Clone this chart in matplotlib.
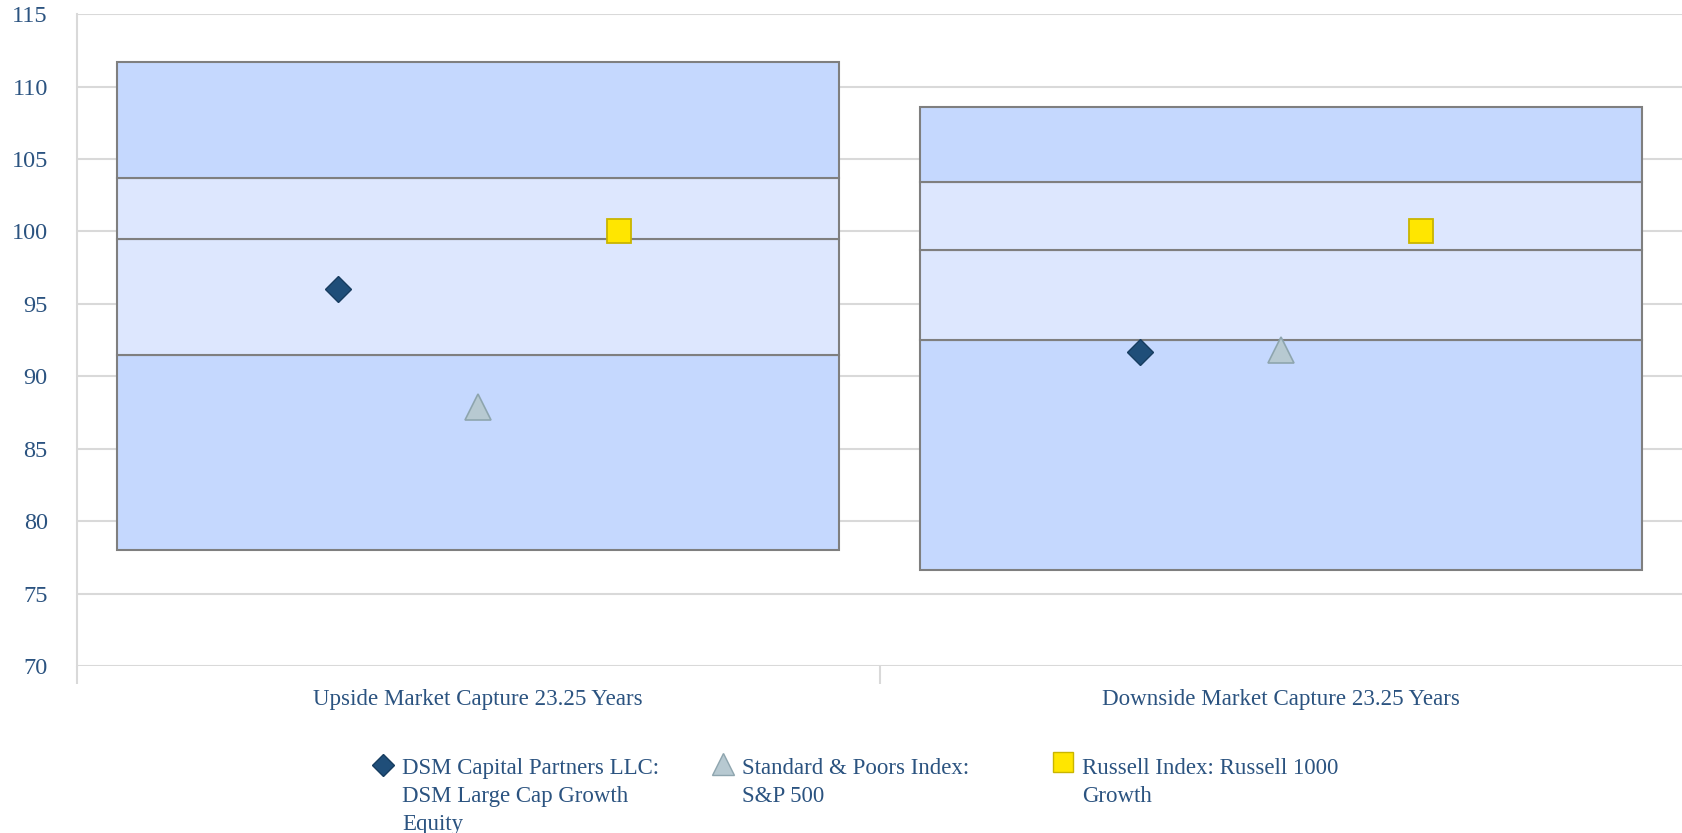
import matplotlib
matplotlib.use("Agg")
import matplotlib.pyplot as plt
from matplotlib.lines import Line2D
import numpy as np

categories = ["Upside Market Capture 23.25 Years", "Downside Market Capture 23.25 Years"]
p05 = [78.0, 76.6]
p25 = [91.5, 92.5]
p50 = [99.5, 98.7]
p75 = [103.7, 103.4]
p95 = [111.7, 108.6]

series_names = ["DSM Capital Partners LLC:\nDSM Large Cap Growth\nEquity",
                "Standard & Poors Index:\nS&P 500",
                "Russell Index: Russell 1000\nGrowth"]
dsm = [96.0, 91.7]
sp500 = [87.9, 91.8]
russell = [100.0, 100.0]

yticks = [70, 75, 80, 85, 90, 95, 100, 105, 110, 115]

TXT = "#2b5380"
FONT = "Liberation Serif"
plt.rcParams['font.family'] = [FONT, 'DejaVu Serif']

fig = plt.figure(figsize=(16.82, 8.33), dpi=100)
ax = fig.add_axes([0.0458, 0.2005, 0.9542, 0.7825])

x = np.arange(len(categories))
w = 0.9
outer = "#c5d8fe"
inner = "#dde7fe"
edge = "#7f7f7f"
segs = [(p05, p25, outer), (p25, p50, inner), (p50, p75, inner), (p75, p95, outer)]
for lo, hi, col in segs:
    ax.bar(x, np.array(hi) - np.array(lo), bottom=lo, width=w, color=col,
           edgecolor=edge, linewidth=1.5, zorder=2)

off = 0.175
mk = dict(linestyle="none", zorder=4)
ax.plot(x - off, dsm, marker="D", markersize=13, color="#1f4e79",
        markeredgecolor="#173d60", markeredgewidth=1.0, **mk)
ax.plot(x, sp500, marker="^", markersize=18.5, color="#b7c9d1",
        markeredgecolor="#8ea5ae", markeredgewidth=1.2, **mk)
ax.plot(x + off, russell, marker="s", markersize=17, color="#ffe600",
        markeredgecolor="#c9b500", markeredgewidth=1.3, **mk)

ax.set_ylim(70, 115)
ax.set_xlim(-0.5, 1.5)
ax.set_yticks(yticks)
ax.yaxis.grid(True, color="#d9d9d9", linewidth=1.5, zorder=0)
ax.set_axisbelow(True)
for s in ["top", "right", "bottom"]:
    ax.spines[s].set_visible(False)
ax.spines["left"].set_color("#d9d9d9")
ax.spines["left"].set_linewidth(1.5)
ax.tick_params(axis="y", length=0, pad=21, labelsize=17.5, labelcolor=TXT)
ax.set_yticklabels([str(v) for v in yticks], fontfamily=FONT)

ax.set_xticks(x)
ax.set_xticklabels(categories, fontfamily=FONT)
ax.tick_params(axis="x", length=0, pad=16.5, labelsize=16.6, labelcolor=TXT)
ax.set_xticks([-0.5, 0.5], minor=True)
ax.tick_params(axis="x", which="minor", length=13, width=1.5, color="#d9d9d9")

# legend (manual, first-line aligned markers)
H = 833.0
Wd = 1682.0
leg = [
    (383, 765, 402, "D", 11.5, "#1f4e79", "#173d60", series_names[0]),
    (723, 764, 742, "^", 15.5, "#b7c9d1", "#8ea5ae", series_names[1]),
    (1063, 762, 1082, "s", 14.5, "#ffe600", "#c9b500", series_names[2]),
]
for mx, my, tx, m, ms, fc, ec, lab in leg:
    fig.add_artist(Line2D([mx / Wd], [1 - my / H], marker=m, markersize=ms,
                          markerfacecolor=fc, markeredgecolor=ec, linestyle="none",
                          transform=fig.transFigure))
    fig.text(tx / Wd, 1 - 758 / H, lab, ha="left", va="top", fontsize=16.5,
             color=TXT, fontfamily=FONT, linespacing=1.44)

fig.savefig("out.png", dpi=100, facecolor="white")
